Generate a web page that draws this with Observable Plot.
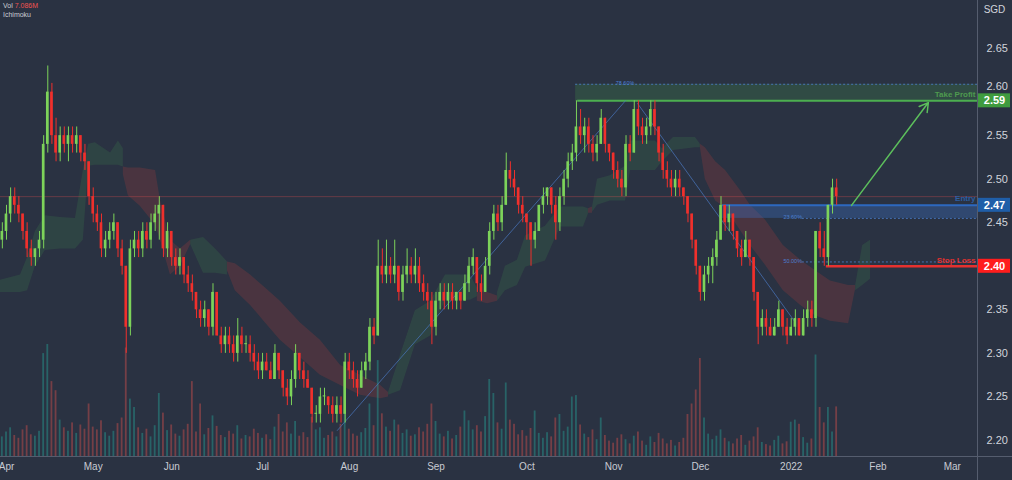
<!DOCTYPE html>
<html><head><meta charset="utf-8">
<script src="https://cdn.jsdelivr.net/npm/d3@7"></script>
<script src="https://cdn.jsdelivr.net/npm/@observablehq/plot@0.6"></script>
<style>
html,body{margin:0;padding:0;background:#2a3242;}
#wrap{position:relative;width:1012px;height:480px;overflow:hidden;background:#2a3242;}
#legend{position:absolute;left:3px;top:1px;font:7px "Liberation Sans",Arial,sans-serif;color:#c9ccd3;line-height:9px;}
</style></head><body>
<div id="wrap"><div id="chart"></div><div id="legend"><span>Vol</span> <span style="color:#ef5350">7.086M</span><br>Ichimoku</div></div>
<script>
// ---- bar index of first candle (Apr 1 2021 = 0) ----
const firstBar = -2;
const opens = [2.44,2.43,2.44,2.46,2.48,2.47,2.46,2.44,2.42,2.41,2.42,2.43,2.54,2.60,2.55,2.53,2.55,2.54,2.55,2.54,2.55,2.53,
2.52,2.48,2.46,2.45,2.42,2.43,2.44,2.45,2.42,2.40,2.33,2.42,2.43,2.42,2.44,2.43,2.45,2.46,2.47,2.42,2.44,2.41,2.40,2.41,2.39,2.38,
2.37,2.35,2.34,2.35,2.33,2.37,2.32,2.31,2.32,2.31,2.30,2.32,2.31,2.31,2.30,2.29,2.28,2.29,2.28,2.27,2.30,2.28,2.26,2.25,
2.27,2.30,2.28,2.27,2.26,2.23,2.23,2.25,2.25,2.24,2.23,2.24,2.23,2.29,2.28,2.27,2.26,2.28,2.29,2.33,2.32,2.40,2.39,2.40,
2.39,2.40,2.37,2.39,2.40,2.39,2.40,2.38,2.37,2.36,2.33,2.36,2.37,2.36,2.37,2.36,2.37,2.36,2.38,2.40,2.41,2.38,2.37,2.40,
2.44,2.46,2.45,2.47,2.51,2.50,2.49,2.47,2.46,2.45,2.43,2.44,2.47,2.48,2.49,2.47,2.45,2.48,2.50,2.52,2.53,2.56,2.55,2.56,
2.54,2.53,2.54,2.57,2.54,2.53,2.51,2.50,2.49,2.54,2.53,2.58,2.56,2.55,2.56,2.58,2.56,2.53,2.51,2.50,2.49,2.50,2.49,2.48,
2.46,2.43,2.40,2.37,2.39,2.40,2.41,2.43,2.47,2.45,2.46,2.44,2.42,2.41,2.43,2.41,2.37,2.33,2.34,2.33,2.32,2.33,2.35,2.33,
2.32,2.33,2.34,2.32,2.34,2.35,2.34,2.44,2.42,2.41,2.47,2.49];
const highs = [2.45,2.45,2.47,2.49,2.49,2.48,2.46,2.45,2.43,2.42,2.44,2.55,2.63,2.61,2.57,2.56,2.56,2.56,2.56,2.56,2.55,2.54,
2.52,2.49,2.47,2.46,2.44,2.45,2.46,2.45,2.43,2.40,2.43,2.44,2.44,2.45,2.45,2.46,2.47,2.48,2.47,2.45,2.44,2.42,2.42,2.41,2.40,2.39,
2.37,2.36,2.36,2.35,2.38,2.37,2.33,2.33,2.33,2.32,2.34,2.33,2.32,2.32,2.31,2.30,2.30,2.30,2.29,2.31,2.30,2.28,2.27,2.28,
2.31,2.30,2.29,2.28,2.26,2.24,2.26,2.26,2.25,2.25,2.25,2.25,2.30,2.30,2.29,2.28,2.29,2.30,2.34,2.34,2.43,2.42,2.43,2.41,
2.43,2.40,2.40,2.42,2.41,2.42,2.41,2.39,2.38,2.37,2.37,2.38,2.38,2.38,2.38,2.37,2.37,2.39,2.41,2.42,2.41,2.39,2.41,2.45,
2.47,2.47,2.48,2.53,2.52,2.51,2.49,2.48,2.46,2.45,2.45,2.47,2.49,2.49,2.49,2.48,2.49,2.51,2.53,2.54,2.59,2.58,2.57,2.57,
2.55,2.55,2.58,2.57,2.54,2.53,2.52,2.51,2.55,2.55,2.59,2.59,2.57,2.57,2.59,2.59,2.56,2.54,2.52,2.51,2.51,2.51,2.49,2.48,
2.46,2.43,2.40,2.40,2.41,2.42,2.44,2.48,2.47,2.47,2.46,2.44,2.43,2.44,2.43,2.41,2.37,2.35,2.35,2.34,2.34,2.36,2.35,2.34,
2.34,2.35,2.34,2.35,2.36,2.36,2.44,2.45,2.44,2.47,2.50,2.50];
const lows = [2.42,2.42,2.43,2.45,2.46,2.45,2.43,2.41,2.40,2.40,2.41,2.42,2.53,2.54,2.52,2.52,2.53,2.52,2.53,2.53,2.52,2.51,
2.47,2.45,2.44,2.41,2.41,2.42,2.43,2.41,2.39,2.30,2.32,2.41,2.41,2.41,2.42,2.42,2.44,2.43,2.41,2.41,2.40,2.39,2.39,2.38,2.37,2.36,
2.34,2.33,2.33,2.32,2.32,2.32,2.30,2.30,2.30,2.29,2.29,2.30,2.30,2.29,2.28,2.27,2.27,2.28,2.27,2.27,2.27,2.25,2.24,2.24,
2.26,2.27,2.26,2.26,2.22,2.22,2.22,2.24,2.23,2.22,2.22,2.22,2.22,2.27,2.26,2.25,2.26,2.27,2.28,2.31,2.32,2.38,2.38,2.38,
2.38,2.36,2.36,2.38,2.38,2.38,2.37,2.36,2.35,2.31,2.32,2.35,2.35,2.35,2.35,2.35,2.35,2.36,2.37,2.39,2.37,2.36,2.37,2.39,
2.43,2.44,2.44,2.47,2.49,2.48,2.46,2.45,2.43,2.40,2.42,2.44,2.46,2.47,2.46,2.43,2.44,2.47,2.49,2.51,2.52,2.54,2.53,2.53,
2.52,2.52,2.54,2.53,2.52,2.50,2.49,2.48,2.48,2.52,2.53,2.55,2.54,2.54,2.55,2.55,2.52,2.50,2.49,2.48,2.48,2.48,2.47,2.45,
2.42,2.39,2.36,2.36,2.38,2.38,2.40,2.43,2.44,2.44,2.43,2.41,2.40,2.41,2.40,2.36,2.31,2.32,2.32,2.32,2.32,2.33,2.32,2.31,
2.32,2.32,2.32,2.32,2.33,2.33,2.33,2.41,2.40,2.40,2.46,2.47];
const closes = [2.43,2.44,2.46,2.48,2.47,2.46,2.44,2.42,2.41,2.42,2.43,2.54,2.60,2.55,2.53,2.55,2.54,2.55,2.54,2.55,2.53,2.52,
2.48,2.46,2.45,2.42,2.43,2.44,2.45,2.42,2.40,2.33,2.42,2.43,2.42,2.44,2.43,2.45,2.46,2.47,2.42,2.44,2.41,2.40,2.41,2.39,2.38,2.37,
2.35,2.34,2.35,2.33,2.37,2.32,2.31,2.32,2.31,2.30,2.32,2.31,2.31,2.30,2.29,2.28,2.29,2.28,2.27,2.30,2.28,2.26,2.25,2.27,
2.30,2.28,2.27,2.26,2.23,2.23,2.25,2.25,2.24,2.23,2.24,2.23,2.29,2.28,2.27,2.26,2.28,2.29,2.33,2.32,2.40,2.39,2.40,2.39,
2.40,2.37,2.39,2.40,2.39,2.40,2.38,2.37,2.36,2.33,2.36,2.37,2.36,2.37,2.36,2.37,2.36,2.38,2.40,2.41,2.38,2.37,2.40,2.44,
2.46,2.45,2.47,2.51,2.50,2.49,2.47,2.46,2.45,2.43,2.44,2.47,2.48,2.49,2.47,2.45,2.48,2.50,2.52,2.53,2.56,2.55,2.56,2.54,
2.53,2.54,2.57,2.54,2.53,2.51,2.50,2.49,2.54,2.53,2.58,2.56,2.55,2.56,2.58,2.56,2.53,2.51,2.50,2.49,2.50,2.49,2.48,2.46,
2.43,2.40,2.37,2.39,2.40,2.41,2.43,2.47,2.45,2.46,2.44,2.42,2.41,2.43,2.41,2.37,2.33,2.34,2.33,2.32,2.33,2.35,2.33,2.32,
2.33,2.34,2.32,2.34,2.35,2.34,2.44,2.42,2.41,2.47,2.49,2.48];
const volumes = [3.2,2.8,3.5,4.1,3.0,2.6,3.8,4.4,3.1,2.9,3.6,
14.7,16.0,10.7,9.4,5.2,4.1,3.6,4.8,3.3,4.5,3.9,
7.5,4.2,3.8,5.1,3.4,2.9,3.6,4.7,5.5,15.5,8.2,
7.0,4.1,3.3,3.9,2.8,4.4,9.0,6.2,3.7,4.5,3.2,
2.9,3.8,4.6,10.7,3.5,7.5,3.1,4.0,5.8,4.3,3.0,
2.7,3.6,3.2,4.4,2.5,3.0,2.8,3.9,3.3,2.6,3.1,
2.4,4.2,6.0,3.5,4.8,3.2,5.0,2.9,3.4,2.7,5.6,
3.8,4.1,2.6,3.0,3.5,2.8,4.6,6.3,3.9,3.2,2.9,
3.4,4.0,7.5,4.4,13.7,6.1,4.2,3.6,5.2,4.5,3.3,
3.8,2.9,3.1,4.1,3.5,4.6,7.5,5.0,3.2,2.8,3.6,
2.5,3.0,4.2,6.5,5.1,3.8,4.4,3.5,5.7,11.0,9.0,
4.8,3.9,10.5,5.2,4.6,3.1,3.7,2.9,4.0,6.5,3.3,
2.6,3.4,2.8,5.5,6.0,3.6,4.2,8.5,8.7,4.5,3.2,
2.7,3.8,2.4,5.5,3.0,2.2,1.9,2.6,3.1,2.4,1.8,
2.9,3.5,2.2,1.6,2.8,2.0,3.3,2.5,1.8,2.3,1.5,
2.0,2.6,6.0,7.5,9.5,14.0,5.5,3.2,2.4,2.9,3.8,
2.6,2.1,1.8,2.5,3.0,1.6,2.2,2.8,4.1,2.0,1.7,
1.5,2.3,2.9,1.8,2.1,4.9,5.2,4.6,2.7,1.9,2.5,
14.5,7.0,4.8,7.0,3.5,7.086];

// ---- Ichimoku cloud (bar index, upper edge, lower edge, run id g=green r=red) ----
const cloudSeg = ["g1","g1","g1","g1","g1","g1","g1","g1","g1","g1","g1","g1","g1",
"r1","r1","r1","r1","r1","r1","r1","r1",
"g2","g2","g2","g2",
"r2","r2","r2","r2","r2","r2","r2","r2","r2","r2","r2",
"g3","g3","g3","g3","g3","g3","g3",
"r3","r3","r3",
"g4","g4","g4","g4","g4","g4","g4","g4",
"r4","r4",
"g5","g5","g5","g5","g5","g5","g5","g5","g5","g5",
"r5","r5","r5","r5","r5","r5","r5","r5","r5","r5","r5","r5","r5",
"g6","g6","g6"];
const cloudIdx = [-1.5,3.4,5.1,7.0,9.4,13.1,16.7,18.6,19.9,21.5,25.2,27.1,28.3,
28.3,29.5,32.4,36.1,37.3,39.7,42.1,44.6,
44.6,47.7,50.6,53.5,
53.5,55.4,59.1,62.7,66.3,71.2,76.0,80.9,85.7,90.6,92.5,
92.5,95.4,99.0,102.7,106.3,112.3,114.0,
114.0,116.5,118.9,
118.9,120.8,123.7,125.7,130.5,134.1,139.7,140.9,
140.9,141.9,
141.9,143.1,146.2,149.9,151.1,157.1,158.8,161.5,166.8,168.0,
168.0,169.2,171.7,174.1,177.7,180.1,183.8,188.1,192.3,195.9,199.5,203.9,205.6,
205.6,207.3,209.2];
const cloudTop = [2.384,2.390,2.410,2.440,2.458,2.456,2.455,2.510,2.540,2.542,2.530,2.544,2.535,
2.514,2.513,2.513,2.510,2.475,2.430,2.420,2.430,
2.430,2.433,2.420,2.405,
2.405,2.403,2.390,2.375,2.360,2.335,2.315,2.286,2.275,2.263,2.255,
2.255,2.298,2.349,2.360,2.390,2.390,2.375,
2.370,2.370,2.366,
2.370,2.400,2.407,2.435,2.446,2.468,2.468,2.466,
2.466,2.468,
2.468,2.500,2.504,2.515,2.544,2.544,2.535,2.548,2.548,2.540,
2.540,2.536,2.520,2.510,2.487,2.470,2.453,2.424,2.407,2.395,2.383,2.378,2.378,
2.378,2.424,2.430];
const cloudBot = [2.370,2.370,2.372,2.400,2.418,2.420,2.420,2.430,2.515,2.516,2.516,2.516,2.514,
2.505,2.481,2.469,2.447,2.430,2.390,2.400,2.425,
2.425,2.392,2.392,2.390,
2.395,2.372,2.355,2.335,2.315,2.295,2.275,2.263,2.252,2.248,2.250,
2.252,2.257,2.310,2.320,2.361,2.361,2.365,
2.360,2.357,2.360,
2.360,2.372,2.378,2.399,2.406,2.445,2.445,2.460,
2.461,2.461,
2.462,2.470,2.475,2.475,2.510,2.510,2.520,2.533,2.536,2.536,
2.536,2.500,2.475,2.467,2.441,2.424,2.401,2.372,2.355,2.343,2.337,2.334,2.374,
2.372,2.378,2.385];

// ---- axis ticks (2.40 is shown by its price tag; 2.60 sits just above the 2.59 tag) ----
const priceTicks = [2.20,2.25,2.30,2.35,2.45,2.50,2.55,2.65];
const raisedTicks = [2.60];
const monthTicks = [0,21,40,62,83,104,126,147,168,190,211,229];
const monthLabels = ["Apr","May","Jun","Jul","Aug","Sep","Oct","Nov","Dec","2022","Feb","Mar"];

// ---- trade setup (bar index / price) ----
const takeProfit = 2.59, entry = 2.47, stopLoss = 2.40;
const tpZone = [{x1: 137.8, y1: 2.589, y2: 2.609}];
const entryZone = [{x1: 173.4, y1: 2.455, y2: 2.47}];
const tpLineStart = 138.3, stopLineStart = 198.5;
const fibLevels = [{label: "78.60%", p: 2.609, x1: 137.8, lx: 147.5},
                   {label: "23.60%", p: 2.455, x1: 192.7, lx: 188.1},
                   {label: "50.00%", p: 2.405, x1: 192.7, lx: 188.1}];
const trendLines = [{id: "a", i: 80.1, p: 2.2115}, {id: "a", i: 149.9, p: 2.5903},
                    {id: "b", i: 152.8, p: 2.5869}, {id: "b", i: 191.0, p: 2.3355}];
const arrowSeg = [{x1: 204.6, y1: 2.470, x2: 223.2, y2: 2.588}];
const tradeLabels = [{text: "Take Profit", p: 2.597, color: "#4e9a4f"},
                     {text: "Entry", p: 2.478, color: "#2c5ea3"},
                     {text: "Stop Loss", p: 2.407, color: "#e0312f"}];
const priceTags = [{p: takeProfit, color: "#3f9b3f"}, {p: entry, color: "#1f5ea8"}, {p: stopLoss, color: "#ff1d1d"}];

// ---- layout ----
const W = 1012, H = 480, mR = 35, mB = 24;
const xDomain = [-1.45, 235.1];
const yDomain = [2.1816, 2.7052];
const up = "#7dd35a", down = "#f0302c";

const bars = opens.map((o, k) => ({i: firstBar + k, o, h: highs[k], l: lows[k], c: closes[k], v: volumes[k]}));
const cloud = cloudIdx.map((i, k) => ({i, top: cloudTop[k], bot: cloudBot[k], seg: cloudSeg[k]}));
const lastClose = closes[closes.length - 1];
const monthMap = new Map(monthTicks.map((t, k) => [t, monthLabels[k]]));

const plotW = W - mR, plotH = H - mB;
const pxPerIdx = plotW / (xDomain[1] - xDomain[0]);
const pxPerPrice = plotH / (yDomain[1] - yDomain[0]);
const volPxPerM = 7;
const volY = v => yDomain[0] + v * volPxPerM / pxPerPrice;
const xRightEdge = xDomain[1] + mR / pxPerIdx;
const tagW = 32 / pxPerIdx, tagH = 7 / pxPerPrice;
const labelEnd = xDomain[1] - 2 / pxPerIdx;

const chart = Plot.plot({
  width: W, height: H,
  marginLeft: 0, marginRight: mR, marginTop: 0, marginBottom: mB,
  x: {domain: xDomain},
  y: {domain: yDomain},
  style: {background: "#2a3242", color: "#d1d4dc", fontFamily: "'Liberation Sans', Arial, sans-serif"},
  marks: [
    // cloud
    Plot.areaY(cloud.filter(d => d.seg[0] === "g"), {x: "i", y1: "bot", y2: "top", z: "seg", fill: "#4caf50", fillOpacity: 0.15}),
    Plot.areaY(cloud.filter(d => d.seg[0] === "r"), {x: "i", y1: "bot", y2: "top", z: "seg", fill: "#f44336", fillOpacity: 0.16}),
    // volume
    Plot.rect(bars, {x1: d => d.i - 0.22, x2: d => d.i + 0.22, y1: d => yDomain[0], y2: d => volY(d.v),
      fill: d => d.c >= d.o ? "#26a69a" : "#ef5350", fillOpacity: d => d.c >= d.o ? 0.42 : 0.38}),
    // last price line
    Plot.ruleY([lastClose], {stroke: "#ef5350", strokeOpacity: 0.3, strokeWidth: 1}),
    // zones
    Plot.rect(tpZone, {x1: "x1", x2: () => xDomain[1], y1: "y1", y2: "y2", fill: "#4caf50", fillOpacity: 0.2}),
    Plot.rect(entryZone, {x1: "x1", x2: () => xDomain[1], y1: "y1", y2: "y2", fill: "#3b73c6", fillOpacity: 0.35}),
    Plot.ruleY(fibLevels, {y: "p", x1: "x1", x2: () => xDomain[1], stroke: "#4b7fd1", strokeOpacity: 0.8, strokeDasharray: "2,2"}),
    Plot.text(fibLevels, {x: "lx", y: "p", text: "label", fill: "#4b7fd1", fontSize: 5.5, textAnchor: "start", dy: -1}),
    Plot.ruleY([takeProfit], {x1: () => tpLineStart, x2: () => xDomain[1], stroke: "#4caf50", strokeWidth: 2}),
    Plot.ruleY([entry], {x1: () => entryZone[0].x1, x2: () => xDomain[1], stroke: "#2d68bf", strokeWidth: 2}),
    Plot.ruleY([stopLoss], {x1: () => stopLineStart, x2: () => xDomain[1], stroke: "#e5312f", strokeWidth: 2.5}),
    // trend lines
    Plot.line(trendLines, {x: "i", y: "p", z: "id", stroke: "#4a78c0", strokeOpacity: 0.7, strokeWidth: 1}),
    // candles
    Plot.ruleX(bars, {x: "i", y1: "l", y2: "h", stroke: d => d.c >= d.o ? up : down, strokeWidth: 1}),
    Plot.rect(bars, {x1: d => d.i - 0.32, x2: d => d.i + 0.32, y1: "o", y2: d => d.c === d.o ? d.c + 0.0012 : d.c,
      fill: d => d.c >= d.o ? up : down}),
    // arrow
    Plot.arrow(arrowSeg, {x1: "x1", y1: "y1", x2: "x2", y2: "y2", stroke: "#5cbf5c", strokeWidth: 1.5, headLength: 10}),
    Plot.text(tradeLabels, {x: () => labelEnd, y: "p", text: "text", fill: "color", textAnchor: "end", fontSize: 8, fontWeight: "bold"}),
    // frame lines
    Plot.ruleX([xDomain[1]], {y1: () => yDomain[0] - mB / pxPerPrice, y2: () => yDomain[1], stroke: "#555d6e"}),
    Plot.ruleY([yDomain[0]], {x1: () => xDomain[0], x2: () => xRightEdge, stroke: "#555d6e"}),
    // axes
    Plot.axisY({anchor: "right", ticks: priceTicks, tickFormat: d => d.toFixed(2), tickSize: 0, tickPadding: 9, fontSize: 11, label: null, color: "#d1d4dc"}),
    Plot.axisY({anchor: "right", ticks: raisedTicks, tickFormat: d => d.toFixed(2), tickSize: 0, tickPadding: 9, fontSize: 11, label: null, color: "#d1d4dc", dy: -6}),
    Plot.axisX({ticks: monthTicks, tickFormat: d => monthMap.get(d), tickSize: 0, tickPadding: 6, fontSize: 10, label: null, color: "#c8cbd3"}),
    Plot.text(["SGD"], {x: () => xDomain[1] + 17 / pxPerIdx, y: () => yDomain[1] - 9 / pxPerPrice, text: d => d, fill: "#d1d4dc", fontSize: 10}),
    // price tags
    Plot.rect(priceTags, {x1: () => xDomain[1] + 1 / pxPerIdx, x2: () => xDomain[1] + (1 / pxPerIdx) + tagW, y1: d => d.p - tagH, y2: d => d.p + tagH, fill: "color"}),
    Plot.text(priceTags, {x: () => xDomain[1] + 1 / pxPerIdx + tagW / 2, y: "p", text: d => d.p.toFixed(2), fill: "white", fontSize: 11, fontWeight: "bold"})
  ]
});
document.getElementById("chart").appendChild(chart);
</script>
</body></html>
